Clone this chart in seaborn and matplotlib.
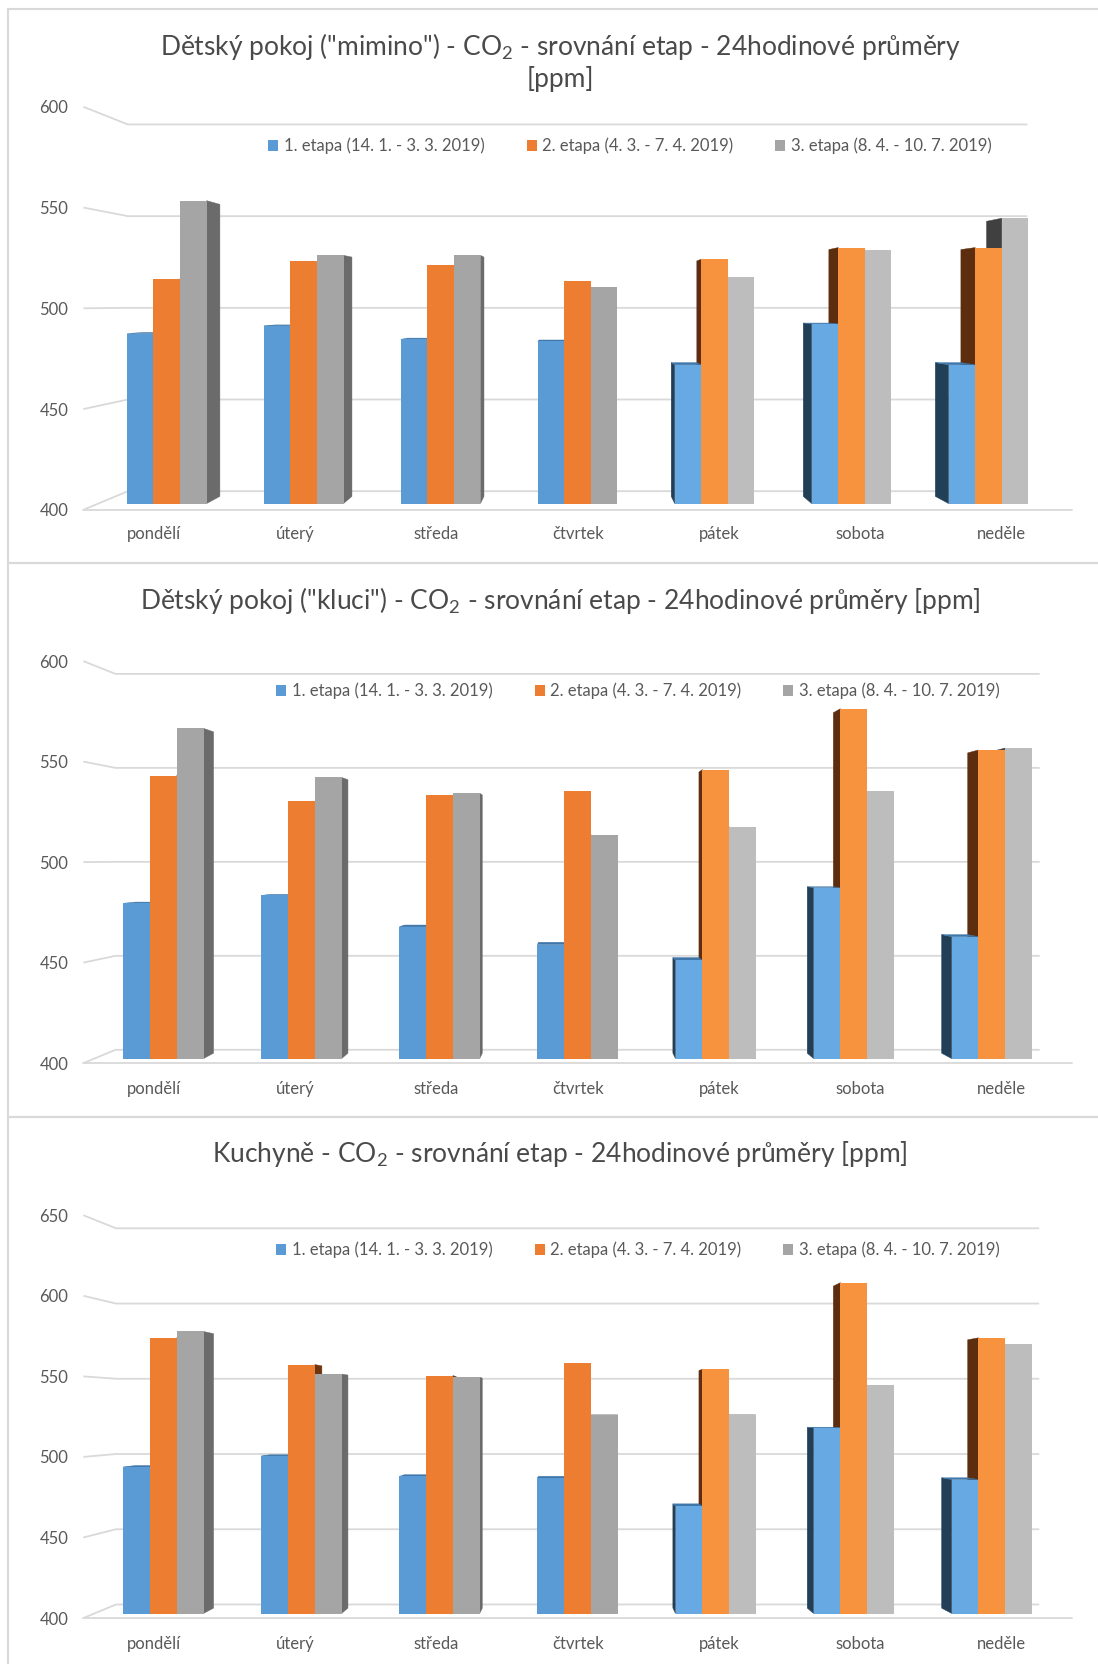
import numpy as np
import pandas as pd
import matplotlib
matplotlib.use("Agg")
import matplotlib.pyplot as plt
from matplotlib.patches import Polygon, Patch, Rectangle
import seaborn as sns

# ---- data -------------------------------------------------------------
days = ["pondělí", "úterý", "středa", "čtvrtek", "pátek", "sobota", "neděle"]
stages = ["1. etapa (14. 1. - 3. 3. 2019)",
          "2. etapa (4. 3. - 7. 4. 2019)",
          "3. etapa (8. 4. - 10. 7. 2019)"]

mimino_1 = [487, 491, 484, 483, 471, 492, 471]
mimino_2 = [515, 524, 522, 514, 525, 531, 531]
mimino_3 = [555, 527, 527, 511, 516, 530, 546]

kluci_1 = [479, 483, 467, 458, 450, 487, 462]
kluci_2 = [544, 531, 534, 536, 547, 578, 557]
kluci_3 = [568, 543, 535, 514, 518, 536, 558]

kuchyne_1 = [493, 500, 487, 486, 468, 518, 485]
kuchyne_2 = [575, 558, 551, 559, 555, 610, 575]
kuchyne_3 = [579, 552, 550, 526, 526, 545, 571]

titles = [
    ['Dětský pokoj ("mimino") - CO$_2$ - srovnání etap - 24hodinové průměry', "[ppm]"],
    ['Dětský pokoj ("kluci") - CO$_2$ - srovnání etap - 24hodinové průměry [ppm]'],
    ["Kuchyně - CO$_2$ - srovnání etap - 24hodinové průměry [ppm]"],
]
y_ticks = [[400, 450, 500, 550, 600],
           [400, 450, 500, 550, 600],
           [400, 450, 500, 550, 600, 650]]

# ---- style ------------------------------------------------------------
sns.set_theme(style="white")
plt.rcParams["font.family"] = ["Lato", "DejaVu Sans"]
plt.rcParams["mathtext.default"] = "regular"
TEXT = "#595959"
TITLE = "#4A4A4A"
GRID = "#D9D9D9"

front = {"blue": ("#5B9BD5", "#66A9E3"), "orange": ("#ED7D31", "#F7923F"),
         "gray": ("#A5A5A5", "#BDBDBD")}
keys = ["blue", "orange", "gray"]
side_right = {"blue": "#2E5A82", "orange": "#6E3510", "gray": "#6B6B6B"}
side_left = {"blue": "#223F58", "orange": "#5C2D0E", "gray": "#404040"}
top_col = {"blue": "#3F77AA", "orange": "#B45A1E", "gray": "#8A8A8A"}

W, H = 1098, 1664
fig = plt.figure(figsize=(W / 100, H / 100), dpi=100)
fig.patch.set_facecolor("white")

# per panel geometry of the 3-D projection (pixels of the figure)
panels = [
    dict(base=503.6, fscale=2.015, f1=0.030, kd=0.036, dw=0.090, vy_px=303.0,
         ttl=[46, 79], leg=(630, 146), top=9, bot=563),
    dict(base=1058.6, fscale=2.010, f1=0.022, kd=0.027, dw=0.065, vy_px=858.0,
         ttl=[600], leg=(638, 691), top=563, bot=1117),
    dict(base=1613.5, fscale=1.611, f1=0.022, kd=0.027, dw=0.066, vy_px=1413.0,
         ttl=[1154], leg=(638, 1250), top=1117, bot=1672),
]
series = [(mimino_1, mimino_2, mimino_3), (kluci_1, kluci_2, kluci_3),
          (kuchyne_1, kuchyne_2, kuchyne_3)]

CX_PX = 577.6          # horizontal vanishing point (centre category)
CAT_PX = 141.2         # category spacing on the front plane
AX_L, AX_R = 78.0, 1077.0
BASE = 400

for p, (s1, s2, s3), ttl, yt in zip(panels, series, titles, y_ticks):
    # panel frame
    fig.add_artist(Rectangle((8 / W, 1 - p["bot"] / H), 1.2, (p["bot"] - p["top"]) / H,
                             transform=fig.transFigure, fill=False, ec=GRID, lw=1.5))

    f1, kd, dw = p["f1"], p["kd"], p["dw"]
    bscale = p["fscale"] * (1 - f1)       # px per unit on the bar plane
    bspace = CAT_PX * (1 - f1)            # px per category on the bar plane
    vy = BASE + (p["base"] - p["vy_px"]) / bscale
    ymax = yt[-1]

    def y_front(v):
        return vy + (v - vy) / (1 - f1)

    top_px = p["base"] - (y_front(ymax) - BASE) * bscale - 10
    bot_px = p["base"] + 14
    ylo = BASE - (bot_px - p["base"]) / bscale
    yhi = BASE + (p["base"] - top_px) / bscale
    half = (AX_R - AX_L) / 2 / bspace
    axc = 3 + ((AX_L + AX_R) / 2 - CX_PX) / bspace

    ax = fig.add_axes([AX_L / W, 1 - bot_px / H, (AX_R - AX_L) / W, (bot_px - top_px) / H])
    ax.set_facecolor("none")

    df = pd.DataFrame({"den": days * 3,
                       "etapa": np.repeat(stages, len(days)),
                       "ppm": list(s1) + list(s2) + list(s3)})
    sns.barplot(data=df, x="den", y="ppm", hue="etapa", order=days, hue_order=stages,
                palette=[front[k][0] for k in keys], width=0.582, saturation=1,
                errorbar=None, legend=False, linewidth=0, ax=ax)

    V = np.array([3.0, vy])

    def back(pt, k):
        pt = np.asarray(pt, float)
        return pt + k * (V - pt)

    for h, cont in enumerate(ax.containers):
        key = keys[h]
        for i, rect in enumerate(cont.patches):
            top = rect.get_height()
            rect.set_y(BASE)
            rect.set_height(top - BASE)
            rect.set_zorder(3)
            rect.set_facecolor(front[key][1] if i >= 4 else front[key][0])
            x0 = rect.get_x()
            x1 = x0 + rect.get_width()
            if x1 <= 3.0 + 1e-6:
                e = x1
                col = side_right[key]
            elif x0 >= 3.0 - 1e-6:
                e = x0
                col = side_left[key]
            else:
                e = None
            if e is not None:
                pts = [(e, BASE), (e, top), back((e, top), kd), back((e, BASE), kd)]
                ax.add_patch(Polygon(pts, closed=True, fc=col, ec=col, lw=0.3, zorder=2))
            if top < vy:
                pts = [(x0, top), (x1, top), back((x1, top), kd), back((x0, top), kd)]
                ax.add_patch(Polygon(pts, closed=True, fc=top_col[key], ec=top_col[key],
                                     lw=0.3, zorder=2.5))

    # back wall grid, side-wall diagonals and front floor edge
    xl_f = 3 + (-3.5) / (1 - f1)
    xr_f = 3 + (3.5) / (1 - f1)
    xl_b = 3 + (-3.5) * (1 - dw) / (1 - f1)
    xr_b = 3 + (3.5) * (1 - dw) / (1 - f1)
    for v in yt:
        yf = y_front(v)
        yb = vy + (v - vy) * (1 - dw) / (1 - f1)
        ax.plot([xl_f, xl_b, xr_b], [yf, yb, yb], color=GRID, lw=1.3, zorder=1,
                solid_capstyle="butt")
    ax.plot([xl_f, xr_f], [y_front(BASE)] * 2, color=GRID, lw=1.3, zorder=1)

    ax.set_xlim(axc - half, axc + half)
    ax.set_ylim(ylo, yhi)
    ax.set_xticks([3 + (i - 3) / (1 - f1) for i in range(len(days))], days)
    ax.set_yticks([y_front(v) for v in yt], [str(v) for v in yt])
    ax.tick_params(axis="both", length=0, colors=TEXT, labelsize=12)
    ax.tick_params(axis="x", pad=6)
    ax.tick_params(axis="y", pad=7)
    ax.set_xlabel("")
    ax.set_ylabel("")
    for s in ax.spines.values():
        s.set_visible(False)

    handles = [Patch(fc=front[k][0], ec="none") for k in keys]
    lx, ly = p["leg"]
    ax.legend(handles, stages, loc="center", ncol=3, frameon=False,
              bbox_to_anchor=((lx - AX_L) / (AX_R - AX_L), (bot_px - ly) / (bot_px - top_px)),
              handlelength=0.6, handleheight=0.6, handletextpad=0.35, columnspacing=2.5,
              fontsize=12, labelcolor=TEXT)

    for line, ty in zip(ttl, p["ttl"]):
        fig.text(560 / W, 1 - ty / H, line, ha="center", va="center",
                 fontsize=19, color=TITLE)

fig.savefig("out.png", dpi=100, facecolor="white")
